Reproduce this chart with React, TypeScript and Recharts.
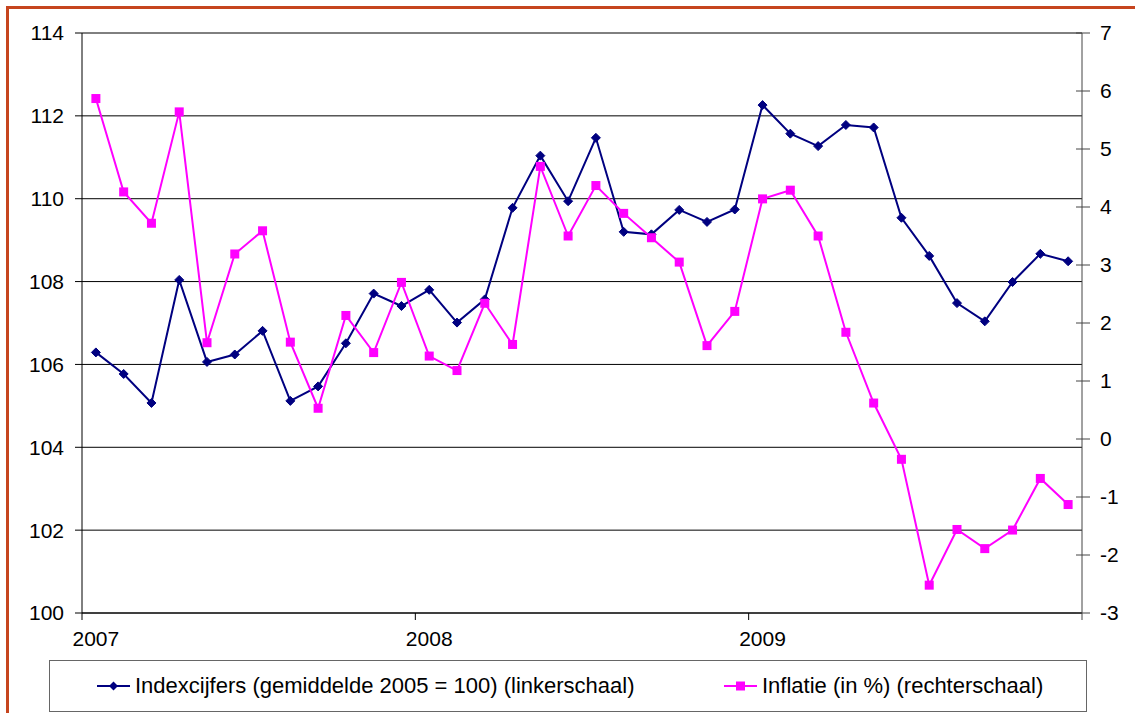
import React from 'react';
import { ComposedChart, Line, XAxis, YAxis, CartesianGrid } from 'recharts';

const months = [
  'jan 2007', 'feb 2007', 'mrt 2007', 'apr 2007', 'mei 2007', 'jun 2007',
  'jul 2007', 'aug 2007', 'sep 2007', 'okt 2007', 'nov 2007', 'dec 2007',
  'jan 2008', 'feb 2008', 'mrt 2008', 'apr 2008', 'mei 2008', 'jun 2008',
  'jul 2008', 'aug 2008', 'sep 2008', 'okt 2008', 'nov 2008', 'dec 2008',
  'jan 2009', 'feb 2009', 'mrt 2009', 'apr 2009', 'mei 2009', 'jun 2009',
  'jul 2009', 'aug 2009', 'sep 2009', 'okt 2009', 'nov 2009', 'dec 2009',
];

const indexcijfers = [
  106.29, 105.77, 105.07, 108.04, 106.06, 106.24, 106.81, 105.12, 105.47, 106.51, 107.71, 107.41,
  107.8, 107.01, 107.57, 109.78, 111.04, 109.94, 111.47, 109.2, 109.14, 109.73, 109.44, 109.74,
  112.26, 111.57, 111.27, 111.78, 111.72, 109.54, 108.62, 107.48, 107.04, 107.99, 108.67, 108.49,
];

const inflatie = [
  5.87, 4.26, 3.72, 5.64, 1.66, 3.19, 3.59, 1.67, 0.53, 2.13, 1.49, 2.7,
  1.43, 1.18, 2.34, 1.63, 4.7, 3.5, 4.37, 3.89, 3.47, 3.05, 1.61, 2.2,
  4.14, 4.29, 3.5, 1.84, 0.62, -0.35, -2.52, -1.56, -1.89, -1.57, -0.68, -1.13,
];

const yearLabels = ['2007', '2008', '2009'];
const leftTicks = [100, 102, 104, 106, 108, 110, 112, 114];
const rightTicks = [-3, -2, -1, 0, 1, 2, 3, 4, 5, 6, 7];

const seriesNames = [
  'Indexcijfers (gemiddelde 2005 = 100) (linkerschaal)',
  'Inflatie (in %) (rechterschaal)',
];

const BLUE = '#000080';
const PINK = '#FF00FF';
const FONT = '"Liberation Sans", Arial, Helvetica, sans-serif';

const data = months.map((m, i) => ({ month: m, index: indexcijfers[i], infl: inflatie[i] }));

const Diamond = (props: any) => {
  const { cx, cy } = props;
  if (cx == null || cy == null) return null;
  const r = 4.5;
  return (
    <polygon
      points={`${cx},${cy - r} ${cx + r},${cy} ${cx},${cy + r} ${cx - r},${cy}`}
      fill={BLUE}
      stroke={BLUE}
      strokeWidth={1}
    />
  );
};

const Square = (props: any) => {
  const { cx, cy } = props;
  if (cx == null || cy == null) return null;
  const s = 9;
  return <rect x={cx - s / 2} y={cy - s / 2} width={s} height={s} fill={PINK} />;
};

const XTick = (props: any) => {
  const { x, y, payload, index } = props;
  const off = payload && payload.offset != null ? payload.offset : 0;
  const axisY = y - 18;
  const out: any[] = [];
  if (index % 12 === 0) {
    out.push(<line key="l" x1={x - off} x2={x - off} y1={axisY} y2={axisY + 7} stroke="#000" strokeWidth={1} />);
    out.push(
      <text key="t" x={x} y={y} dy="0.71em" textAnchor="middle" fontSize={21} fill="#000" fontFamily={FONT}>
        {yearLabels[index / 12]}
      </text>
    );
  }
  if (index === months.length - 1) {
    out.push(<line key="r" x1={x + off} x2={x + off} y1={axisY} y2={axisY + 7} stroke="#444" strokeWidth={1} />);
  }
  return <g>{out}</g>;
};

const RightTick = (props: any) => {
  const { x, y, payload } = props;
  const ax = x - 18;
  return (
    <g>
      <line x1={ax - 6} x2={ax + 8} y1={y} y2={y} stroke="#444" strokeWidth={1} />
      <text x={x} y={y} dy="0.355em" textAnchor="start" fontSize={21} fill="#000" fontFamily={FONT}>
        {payload.value}
      </text>
    </g>
  );
};

const LegendIcon = ({ color, square }: { color: string; square: boolean }) => (
  <svg width={33} height={12} style={{ display: 'block' }}>
    <line x1={0} x2={33} y1={6} y2={6} stroke={color} strokeWidth={2} />
    {square ? (
      <rect x={12} y={1.5} width={9} height={9} fill={color} />
    ) : (
      <polygon points="16.5,1.5 21,6 16.5,10.5 12,6" fill={color} />
    )}
  </svg>
);

export default function App() {
  return (
    <div style={{ position: 'absolute', left: 0, top: 0, width: 1135, height: 713, overflow: 'hidden', background: '#fff', fontFamily: FONT }}>
      <div
        style={{
          position: 'absolute',
          left: 6,
          top: 6,
          width: 1126,
          height: 704,
          borderTop: '3px solid #C6451E',
          borderLeft: '3px solid #C6451E',
        }}
      />
      <div style={{ position: 'absolute', left: 0, top: 0 }}>
        <ComposedChart
          width={1135}
          height={713}
          data={data}
          margin={{ top: 33, right: 8, bottom: 60, left: 12 }}
          style={{ fontFamily: FONT }}
        >
          <CartesianGrid yAxisId="L" horizontal={true} vertical={false} stroke="#000" strokeOpacity={1} />
          <XAxis
            dataKey="month"
            type="category"
            scale="band"
            interval={0}
            height={40}
            tickSize={7}
            tickMargin={11}
            tickLine={false}
            axisLine={{ stroke: '#000', strokeWidth: 1 }}
            tick={<XTick />}
          />
          <YAxis
            yAxisId="L"
            orientation="left"
            width={70}
            domain={[100, 114]}
            ticks={leftTicks}
            interval={0}
            tickSize={7}
            tickMargin={11}
            axisLine={{ stroke: '#000', strokeWidth: 1 }}
            tickLine={{ stroke: '#000', strokeWidth: 1 }}
            tick={{ fontSize: 21, fill: '#000' }}
            allowDataOverflow
          />
          <YAxis
            yAxisId="R"
            orientation="right"
            width={45}
            domain={[-3, 7]}
            ticks={rightTicks}
            interval={0}
            tickSize={7}
            tickMargin={11}
            tickLine={false}
            axisLine={{ stroke: '#444', strokeWidth: 1 }}
            tick={<RightTick />}
            allowDataOverflow
          />
          <Line
            yAxisId="L"
            dataKey="index"
            name={seriesNames[0]}
            stroke={BLUE}
            strokeWidth={2}
            dot={<Diamond />}
            activeDot={false}
            isAnimationActive={false}
          />
          <Line
            yAxisId="R"
            dataKey="infl"
            name={seriesNames[1]}
            stroke={PINK}
            strokeWidth={2}
            dot={<Square />}
            activeDot={false}
            isAnimationActive={false}
          />
        </ComposedChart>
      </div>
      <div
        style={{
          position: 'absolute',
          left: 49,
          top: 660,
          width: 1036,
          height: 50,
          border: '1px solid #666',
          boxSizing: 'content-box',
        }}
      >
        <div style={{ position: 'absolute', left: 47, top: 0, height: 50, display: 'flex', alignItems: 'center' }}>
          <LegendIcon color={BLUE} square={false} />
          <span style={{ fontSize: 22, marginLeft: 5, color: '#000', whiteSpace: 'nowrap' }}>{seriesNames[0]}</span>
        </div>
        <div style={{ position: 'absolute', left: 674, top: 0, height: 50, display: 'flex', alignItems: 'center' }}>
          <LegendIcon color={PINK} square={true} />
          <span style={{ fontSize: 22, marginLeft: 5, color: '#000', whiteSpace: 'nowrap' }}>{seriesNames[1]}</span>
        </div>
      </div>
    </div>
  );
}
